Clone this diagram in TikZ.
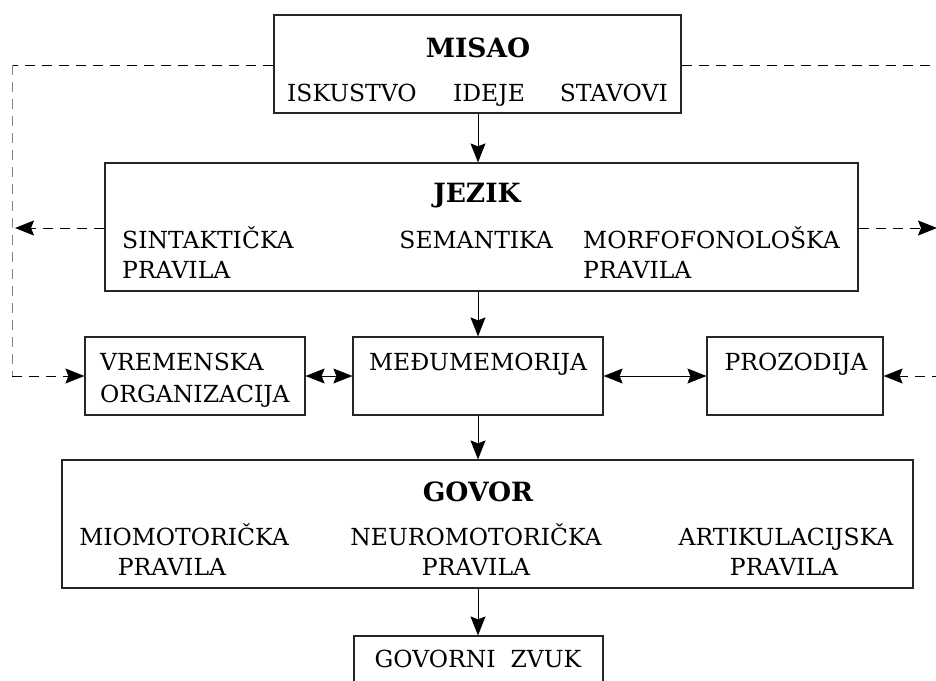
\documentclass[tikz,border=0pt]{standalone}
\usepackage{fontspec}
\setmainfont{DejaVu Serif}
\usetikzlibrary{arrows.meta}
\begin{document}
\begin{tikzpicture}[x=1pt,y=-1pt,
  box/.style={draw=black!85,line width=1.2pt,inner sep=0pt,rectangle},
  txt/.style={inner sep=0pt,font=\fontsize{23.5}{28}\selectfont},
  btxt/.style={inner sep=0pt,font=\fontsize{26.5}{30}\selectfont\bfseries},
  tip/.style={-{Stealth[length=19pt,width=15pt,inset=3pt]}},
  arr/.style={line width=0.9pt,tip},
  darr/.style={line width=0.6pt,{Stealth[length=19pt,width=15pt,inset=3pt]}-{Stealth[length=19pt,width=15pt,inset=3pt]}},
  dashline/.style={line width=0.9pt,dash pattern=on 10pt off 7pt}]
\useasboundingbox (0,0) rectangle (936,680);
\clip (0,0) rectangle (936,680);
% boxes
\node[box,minimum width=407pt,minimum height=98pt] (misao) at (477.5,64) {};
\node[box,minimum width=753pt,minimum height=128pt] (jezik) at (481.5,227) {};
\node[box,minimum width=220pt,minimum height=78pt] (vrem) at (195,376) {};
\node[box,minimum width=250pt,minimum height=78pt] (medju) at (478,376) {};
\node[box,minimum width=176pt,minimum height=78pt] (proz) at (795,376) {};
\node[box,minimum width=851pt,minimum height=128pt] (govor) at (487.5,524) {};
\node[box,minimum width=249pt,minimum height=70pt] (zvuk) at (478.5,671) {};
% texts
\node[btxt,anchor=base] (tmisao) at (478,57) {MISAO};
\node[txt,anchor=base west] (tisk) at (287,101) {ISKUSTVO};
\node[txt,anchor=base] (tide) at (489,101) {IDEJE};
\node[txt,anchor=base east] (tsta) at (668,101) {STAVOVI};
\node[btxt,anchor=base] (tjez) at (477,202) {JEZIK};
\node[txt,anchor=base west] (tsin) at (122,248) {SINTAKTIČKA};
\node[txt,anchor=base west] (tsin2) at (122,278) {PRAVILA};
\node[txt,anchor=base east] (tsem) at (553,248) {SEMANTIKA};
\node[txt,anchor=base west] (tmor) at (583,248) {MORFOFONOLOŠKA};
\node[txt,anchor=base west] (tmor2) at (583,278) {PRAVILA};
\node[txt,anchor=base west] (tvre) at (100,370) {VREMENSKA};
\node[txt,anchor=base west] (tvre2) at (100,402) {ORGANIZACIJA};
\node[txt,anchor=base] (tmed) at (478,370) {MEĐUMEMORIJA};
\node[txt,anchor=base] (tpro) at (796,370) {PROZODIJA};
\node[btxt,anchor=base] (tgov) at (478,501) {GOVOR};
\node[txt,anchor=base] (tmio) at (184,545) {MIOMOTORIČKA};
\node[txt,anchor=base] (tmio2) at (172,575) {PRAVILA};
\node[txt,anchor=base] (tneu) at (476,545) {NEUROMOTORIČKA};
\node[txt,anchor=base] (tneu2) at (476,575) {PRAVILA};
\node[txt,anchor=base] (tart) at (786,545) {ARTIKULACIJSKA};
\node[txt,anchor=base] (tart2) at (784,575) {PRAVILA};
\node[txt,anchor=base] (tzv) at (478,667) {GOVORNI\ \ ZVUK};
% column coordinate
\coordinate (col) at (478,0);
\draw[arr] (misao.south -| col) -- (jezik.north -| col);
\draw[arr] (jezik.south -| col) -- (medju.north -| col);
\draw[arr] (medju.south -| col) -- (govor.north -| col);
\draw[arr] (govor.south -| col) -- (zvuk.north -| col);
\draw[darr] (vrem.east) -- (medju.west);
\draw[darr] (medju.east) -- (proz.west);
% dashed feedback lines
\coordinate (ltop) at (12,65);
\coordinate (lbot) at (12,376);
\coordinate (ljez) at (15,228);
\coordinate (rtop) at (942,65);
\coordinate (rbot) at (942,376);
\coordinate (rjez) at (937,228);
\draw[dashline] (misao.west |- ltop) -- (ltop);
\draw[dashline,draw=gray] (ltop) -- (lbot);
\draw[dashline,tip] (lbot) -- (vrem.west);
\draw[dashline,tip] (jezik.west |- ljez) -- (ljez);
\draw[dashline] (misao.east |- rtop) -- (rtop);
\draw[dashline,draw=gray] (rtop) -- (rbot);
\draw[dashline,tip] (rbot) -- (proz.east);
\draw[dashline,tip] (jezik.east |- rjez) -- (rjez);
\end{tikzpicture}
\end{document}
